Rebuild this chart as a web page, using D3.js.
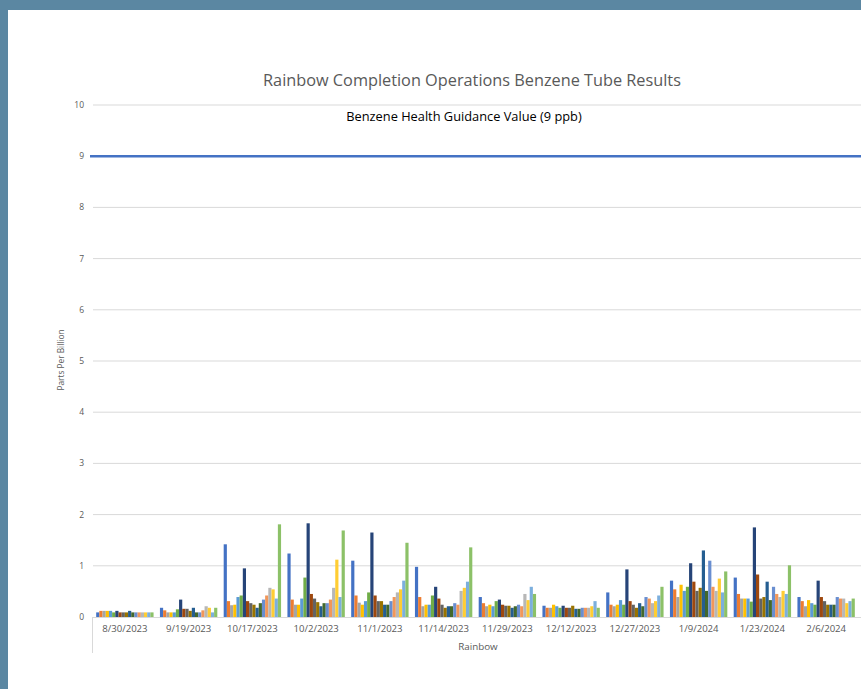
<!DOCTYPE html>
<html>
<head>
<meta charset="utf-8">
<script src="https://cdn.jsdelivr.net/npm/d3@7"></script>
<style>
  body { margin: 0; background: #5b87a2; }
  #chart { position: absolute; left: 0; top: 0; }
</style>
</head>
<body>
<div id="chart"></div>
<script>
// categories (sample dates) and the 18 tube series, values in ppb
const dates = ["8/30/2023", "9/19/2023", "10/17/2023", "10/2/2023", "11/1/2023", "11/14/2023",
  "11/29/2023", "12/12/2023", "12/27/2023", "1/9/2024", "1/23/2024", "2/6/2024"];

const seriesColors = ["#4472C4", "#ED7D31", "#A5A5A5", "#FFC000", "#5B9BD5", "#70AD47",
  "#264478", "#9E480E", "#636363", "#997300", "#255E91", "#43682B",
  "#698ED0", "#F1975A", "#B7B7B7", "#FFCD33", "#7CAFDD", "#8CC168"];

// one row per date, one entry per series
const v_0830 = [0.09, 0.12, 0.12, 0.12, 0.12, 0.09, 0.12, 0.09, 0.09, 0.09, 0.12, 0.09, 0.09, 0.09, 0.09, 0.09, 0.09, 0.09];
const v_0919 = [0.18, 0.13, 0.09, 0.09, 0.09, 0.15, 0.34, 0.16, 0.16, 0.12, 0.18, 0.09, 0.09, 0.13, 0.21, 0.18, 0.09, 0.18];
const v_1017 = [1.42, 0.31, 0.23, 0.24, 0.39, 0.42, 0.95, 0.31, 0.27, 0.24, 0.18, 0.27, 0.34, 0.42, 0.57, 0.54, 0.36, 1.81];
const v_1002 = [1.24, 0.34, 0.24, 0.24, 0.36, 0.77, 1.83, 0.45, 0.36, 0.29, 0.21, 0.27, 0.27, 0.34, 0.57, 1.12, 0.39, 1.69];
const v_1101 = [1.10, 0.42, 0.28, 0.24, 0.31, 0.48, 1.65, 0.42, 0.31, 0.31, 0.24, 0.24, 0.31, 0.39, 0.48, 0.54, 0.71, 1.45];
const v_1114 = [0.98, 0.39, 0.21, 0.24, 0.24, 0.42, 0.59, 0.36, 0.24, 0.18, 0.21, 0.21, 0.27, 0.24, 0.51, 0.57, 0.69, 1.36];
const v_1129 = [0.39, 0.27, 0.21, 0.24, 0.21, 0.31, 0.34, 0.24, 0.22, 0.22, 0.18, 0.21, 0.24, 0.21, 0.45, 0.33, 0.59, 0.45];
const v_1212 = [0.22, 0.18, 0.18, 0.24, 0.21, 0.18, 0.22, 0.18, 0.18, 0.22, 0.16, 0.16, 0.18, 0.18, 0.18, 0.21, 0.31, 0.18];
const v_1227 = [0.48, 0.24, 0.21, 0.24, 0.33, 0.24, 0.93, 0.31, 0.24, 0.18, 0.27, 0.21, 0.39, 0.36, 0.27, 0.31, 0.42, 0.59];
const v_0109 = [0.71, 0.54, 0.39, 0.63, 0.51, 0.59, 1.05, 0.69, 0.51, 0.57, 1.30, 0.51, 1.10, 0.59, 0.51, 0.75, 0.48, 0.89];
const v_0123 = [0.77, 0.45, 0.36, 0.36, 0.36, 0.30, 1.75, 0.83, 0.36, 0.39, 0.69, 0.33, 0.59, 0.45, 0.39, 0.51, 0.45, 1.01];
const v_0206 = [0.39, 0.31, 0.21, 0.33, 0.27, 0.24, 0.71, 0.39, 0.31, 0.24, 0.24, 0.24, 0.39, 0.36, 0.36, 0.27, 0.31, 0.36];

const values = [v_0830, v_0919, v_1017, v_1002, v_1101, v_1114, v_1129, v_1212, v_1227, v_0109, v_0123, v_0206];

const yTicks = [0, 1, 2, 3, 4, 5, 6, 7, 8, 9, 10];
const guidanceValue = 9;

const W = 861, H = 689;
const plot = {left: 93, right: 858, top: 105, bottom: 617};
const font = "Open Sans, sans-serif";

const svg = d3.select("#chart").append("svg")
  .attr("width", W).attr("height", H);

// white chart panel
svg.append("rect")
  .attr("x", 8).attr("y", 10)
  .attr("width", W - 8).attr("height", H - 10)
  .attr("fill", "#ffffff");

const x0 = d3.scaleBand()
  .domain(dates)
  .range([plot.left, plot.right])
  .paddingInner(0.1).paddingOuter(0.05);

const x1 = d3.scaleBand()
  .domain(d3.range(seriesColors.length))
  .range([0, x0.bandwidth()]);

const y = d3.scaleLinear()
  .domain([0, 10])
  .range([plot.bottom, plot.top]);

// gridlines
svg.append("g")
  .selectAll("line")
  .data(yTicks.filter(d => d > 0))
  .enter().append("line")
    .attr("x1", plot.left).attr("x2", W)
    .attr("y1", d => y(d)).attr("y2", d => y(d))
    .attr("stroke", "#d9d9d9").attr("stroke-width", 1);

// y tick labels
svg.append("g")
  .selectAll("text")
  .data(yTicks)
  .enter().append("text")
    .attr("x", 84)
    .attr("y", d => y(d) + 3)
    .attr("text-anchor", "end")
    .attr("font-family", font)
    .attr("font-size", "8.5px")
    .attr("fill", "#595959")
    .text(d => d);

// bars
const groups = svg.append("g")
  .selectAll("g")
  .data(values)
  .enter().append("g")
    .attr("transform", (d, i) => "translate(" + x0(dates[i]) + ",0)");

groups.selectAll("rect")
  .data(d => d)
  .enter().append("rect")
    .attr("x", (d, j) => x1(j))
    .attr("y", d => y(d))
    .attr("width", x1.bandwidth())
    .attr("height", d => y(0) - y(d))
    .attr("fill", (d, j) => seriesColors[j]);

// guidance line
svg.append("line")
  .attr("x1", 90).attr("x2", W)
  .attr("y1", y(guidanceValue)).attr("y2", y(guidanceValue))
  .attr("stroke", "#4472C4").attr("stroke-width", 2.5);

// category axis
svg.append("line")
  .attr("x1", plot.left).attr("x2", W)
  .attr("y1", plot.bottom + 0.5).attr("y2", plot.bottom + 0.5)
  .attr("stroke", "#d9d9d9");
svg.append("line")
  .attr("x1", plot.left - 0.5).attr("x2", plot.left - 0.5)
  .attr("y1", plot.bottom).attr("y2", 653)
  .attr("stroke", "#d9d9d9");

svg.append("g")
  .selectAll("text")
  .data(dates)
  .enter().append("text")
    .attr("x", d => x0(d) + x0.bandwidth() / 2)
    .attr("y", 632)
    .attr("text-anchor", "middle")
    .attr("font-family", font)
    .attr("font-size", "9.6px")
    .attr("fill", "#595959")
    .text(d => d);

svg.append("text")
  .attr("x", 478).attr("y", 650)
  .attr("text-anchor", "middle")
  .attr("font-family", font)
  .attr("font-size", "9.8px")
  .attr("fill", "#595959")
  .text("Rainbow");

// y axis title
svg.append("text")
  .attr("transform", "translate(64,360) rotate(-90)")
  .attr("text-anchor", "middle")
  .attr("font-family", font)
  .attr("font-size", "8.3px")
  .attr("fill", "#595959")
  .text("Parts Per Billion");

// title and annotation
svg.append("text")
  .attr("x", 472).attr("y", 86)
  .attr("text-anchor", "middle")
  .attr("font-family", font)
  .attr("font-size", "16.3px")
  .attr("fill", "#595959")
  .text("Rainbow Completion Operations Benzene Tube Results");

svg.append("text")
  .attr("x", 464).attr("y", 121)
  .attr("text-anchor", "middle")
  .attr("font-family", font)
  .attr("font-size", "12.8px")
  .attr("fill", "#000000")
  .text("Benzene Health Guidance Value (9 ppb)");
</script>
</body>
</html>
